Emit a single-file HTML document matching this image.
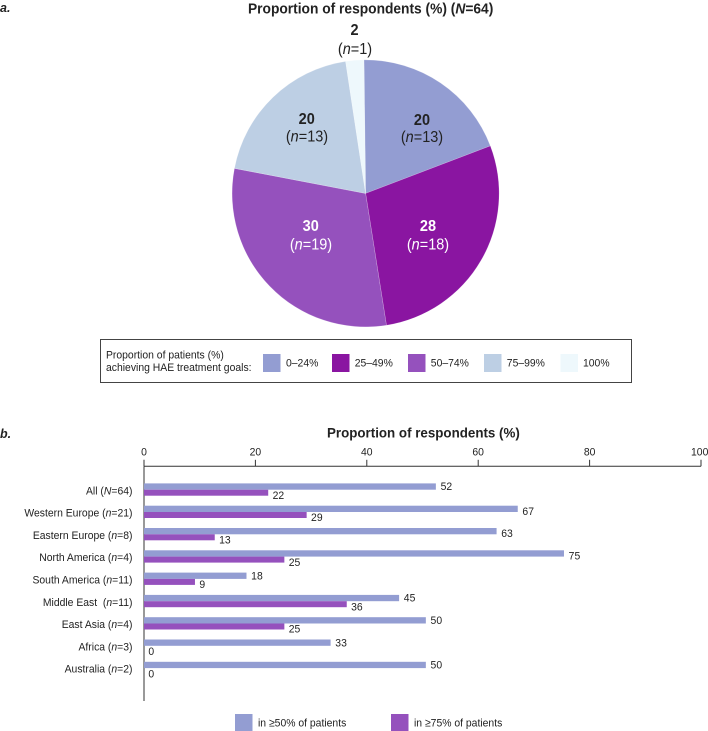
<!DOCTYPE html>
<html lang="en">
<head>
<meta charset="utf-8">
<title>Proportion of respondents</title>
<style>
  html, body { margin: 0; padding: 0; background: #fff; }
  body { width: 708px; height: 731px; overflow: hidden; }
  svg { display: block; font-family: "Liberation Sans", Arial, sans-serif; fill: #222; }
  .t { font-size: 10.4px; }
  .pl { font-size: 14.5px; }
  .pb { font-size: 14.5px; font-weight: bold; }
  .w { fill: #fff; }
  .i { font-style: italic; }
</style>
</head>
<body>
<svg id="figure" xmlns="http://www.w3.org/2000/svg" width="708" height="731" viewBox="0 0 708 731">
  <text x="0" y="12" font-size="12.5" font-weight="bold" font-style="italic">a.</text>
  <text x="248" y="13.5" font-size="13.8" font-weight="bold">Proportion of respondents (%) (<tspan class="i">N</tspan>=64)</text>

  <g id="pie"></g>

  <g text-anchor="middle">
    <text class="pb" x="354.5" y="35">2</text>
    <text class="pl" x="355" y="54">(<tspan class="i">n</tspan>=1)</text>
    <text class="pb" x="422" y="125">20</text>
    <text class="pl" x="422" y="142">(<tspan class="i">n</tspan>=13)</text>
    <text class="pb" x="306.7" y="124">20</text>
    <text class="pl" x="307" y="141.7">(<tspan class="i">n</tspan>=13)</text>
    <text class="pb w" x="310.7" y="231">30</text>
    <text class="pl w" x="311" y="249.3">(<tspan class="i">n</tspan>=19)</text>
    <text class="pb w" x="428" y="231">28</text>
    <text class="pl w" x="428" y="249.3">(<tspan class="i">n</tspan>=18)</text>
  </g>

  <g>
    <rect x="100.5" y="339.5" width="531" height="43" fill="#fff" stroke="#444" stroke-width="1"/>
    <text class="t" x="106" y="358.7">Proportion of patients (%)</text>
    <text class="t" x="106" y="371.2">achieving HAE treatment goals:</text>
    <rect x="263" y="354" width="17.5" height="18" fill="#939dd2"/>
    <text class="t" x="286" y="366.5">0–24%</text>
    <rect x="332" y="354" width="17.5" height="18" fill="#8a15a1"/>
    <text class="t" x="354.7" y="366.5">25–49%</text>
    <rect x="408" y="354" width="17.5" height="18" fill="#9551bd"/>
    <text class="t" x="430.8" y="366.5">50–74%</text>
    <rect x="484" y="354" width="17.5" height="18" fill="#bdcfe4"/>
    <text class="t" x="506.8" y="366.5">75–99%</text>
    <rect x="560.5" y="354" width="17.5" height="18" fill="#eef8fc"/>
    <text class="t" x="583" y="366.5">100%</text>
  </g>

  <text x="0" y="438" font-size="12.5" font-weight="bold" font-style="italic">b.</text>
  <text x="327" y="437.7" font-size="13.36" font-weight="bold">Proportion of respondents (%)</text>

  <g id="bars"></g>

  <g>
    <rect x="235" y="714" width="17.5" height="17" fill="#939dd2"/>
    <text class="t" x="258" y="726.6">in ≥50% of patients</text>
    <rect x="391" y="714" width="17.5" height="17" fill="#9551bd"/>
    <text class="t" x="414" y="726.6">in ≥75% of patients</text>
  </g>
</svg>
<script>
var sliceNames = ['0-24', '25-49', '50-74', '75-99', '100'];
var sliceValues = [19.4, 28.3, 30.5, 19.6, 2.2];
var sliceColors = ['#939dd2', '#8a15a1', '#9551bd', '#bdcfe4', '#eef8fc'];

var regions = ['All', 'Western Europe', 'Eastern Europe', 'North America', 'South America', 'Middle East\u00a0', 'East Asia', 'Africa', 'Australia'];
var regionSymbols = ['N', 'n', 'n', 'n', 'n', 'n', 'n', 'n', 'n'];
var regionCounts = [64, 21, 8, 4, 11, 11, 4, 3, 2];
var seriesAtLeast50 = [52.4, 67.1, 63.3, 75.4, 18.4, 45.8, 50.6, 33.5, 50.6];
var seriesAtLeast75 = [22.3, 29.2, 12.7, 25.2, 9.15, 36.4, 25.2, 0, 0];
var labelsAtLeast50 = [52, 67, 63, 75, 18, 45, 50, 33, 50];
var labelsAtLeast75 = [22, 29, 13, 25, 9, 36, 25, 0, 0];
var tickValues = [0, 20, 40, 60, 80, 100];

var SVGNS = 'http://www.w3.org/2000/svg';
function make(tag, parent) {
  var el = document.createElementNS(SVGNS, tag);
  parent.appendChild(el);
  return el;
}

/* ---------- pie ---------- */
var pieGroup = document.getElementById('pie');
var PIE_CX = 365.6, PIE_CY = 193.4, PIE_R = 133.5, PIE_START = -0.7;
function pieTotal() {
  return sliceValues.reduce(function (a, b) { return a + b; }, 0);
}
function piePoint(deg) {
  var r = (deg - 90) * Math.PI / 180;
  return [PIE_CX + PIE_R * Math.cos(r), PIE_CY + PIE_R * Math.sin(r)];
}
var cumulative = 0;
sliceValues.forEach(function (v, i) {
  var a0 = PIE_START + cumulative / pieTotal() * 360;
  cumulative += v;
  var a1 = PIE_START + cumulative / pieTotal() * 360;
  var p0 = piePoint(a0), p1 = piePoint(a1);
  var large = (a1 - a0) > 180 ? 1 : 0;
  var path = make('path', pieGroup);
  
  
  path.setAttribute('d', 'M' + PIE_CX + ' ' + PIE_CY + 'L' + p0[0] + ' ' + p0[1] +
    'A' + PIE_R + ' ' + PIE_R + ' 0 ' + large + ' 1 ' + p1[0] + ' ' + p1[1] + 'Z');
  path.setAttribute('fill', sliceColors[i]);
  path.setAttribute('stroke', '#fff');
  path.setAttribute('stroke-opacity', '0.3');
  path.setAttribute('stroke-width', '0.6');
});

/* ---------- bars ---------- */
var barGroup = document.getElementById('bars');
var X0 = 144, X_PER_UNIT = 5.57, ROW_TOP = 483.4, ROW_STEP = 22.3, BLUE_H = 6.3, PURPLE_H = 6;
var AXIS_Y = 466.3, AXIS_BOTTOM = 701;
function xScale(v) { return X0 + v * X_PER_UNIT; }
function rowY(i) { return ROW_TOP + i * ROW_STEP; }

var yAxis = make('line', barGroup);


yAxis.setAttribute('x1', xScale(0));
yAxis.setAttribute('x2', xScale(0));
yAxis.setAttribute('y1', AXIS_Y);
yAxis.setAttribute('y2', AXIS_BOTTOM);
yAxis.setAttribute('stroke', '#333');
yAxis.setAttribute('stroke-width', '1');

var xAxis = make('line', barGroup);


xAxis.setAttribute('x1', xScale(0));
xAxis.setAttribute('x2', xScale(100));
xAxis.setAttribute('y1', AXIS_Y);
xAxis.setAttribute('y2', AXIS_Y);
xAxis.setAttribute('stroke', '#333');
xAxis.setAttribute('stroke-width', '1');

tickValues.forEach(function (t) {
  var tick = make('line', barGroup);
  
  
  tick.setAttribute('x1', xScale(t));
  tick.setAttribute('x2', xScale(t));
  tick.setAttribute('y1', AXIS_Y - 6.5);
  tick.setAttribute('y2', AXIS_Y);
  tick.setAttribute('stroke', '#333');
  tick.setAttribute('stroke-width', '1');

  var lab = make('text', barGroup);
  
  
  lab.setAttribute('class', 't');
  lab.setAttribute('x', t === 100 ? xScale(t) - 1.3 : xScale(t));
  lab.setAttribute('y', 455.7);
  lab.setAttribute('text-anchor', 'middle');
  lab.textContent = t;
});

regions.forEach(function (name, i) {
  var y = rowY(i);

  var rowLabel = make('text', barGroup);
  
  
  rowLabel.setAttribute('class', 't');
  rowLabel.setAttribute('x', 132.5);
  rowLabel.setAttribute('y', y + 10.9);
  rowLabel.setAttribute('text-anchor', 'end');
  rowLabel.appendChild(document.createTextNode(name + ' ('));
  var sym = make('tspan', rowLabel);
  sym.setAttribute('class', 'i');
  sym.textContent = regionSymbols[i];
  rowLabel.appendChild(document.createTextNode('=' + regionCounts[i] + ')'));

  var blue = make('rect', barGroup);
  
  
  blue.setAttribute('x', xScale(0));
  blue.setAttribute('y', y);
  blue.setAttribute('width', xScale(seriesAtLeast50[i]) - xScale(0));
  blue.setAttribute('height', BLUE_H);
  blue.setAttribute('fill', '#939dd2');

  var blueLabel = make('text', barGroup);
  
  
  blueLabel.setAttribute('class', 't');
  blueLabel.setAttribute('x', xScale(seriesAtLeast50[i]) + 4.7);
  blueLabel.setAttribute('y', y + BLUE_H / 2 + (seriesAtLeast50[i] > 60 ? 6 : 3.7));
  blueLabel.textContent = labelsAtLeast50[i];

  if (seriesAtLeast75[i] > 0) {
    var purple = make('rect', barGroup);
    
    
    purple.setAttribute('x', xScale(0));
    purple.setAttribute('y', y + BLUE_H);
    purple.setAttribute('width', xScale(seriesAtLeast75[i]) - xScale(0));
    purple.setAttribute('height', PURPLE_H);
    purple.setAttribute('fill', '#9551bd');
  }

  var purpleLabel = make('text', barGroup);
  
  
  purpleLabel.setAttribute('class', 't');
  purpleLabel.setAttribute('x', xScale(seriesAtLeast75[i]) + 4.4);
  purpleLabel.setAttribute('y', y + BLUE_H + PURPLE_H / 2 + 6.2);
  purpleLabel.textContent = labelsAtLeast75[i];
});

/* The reference type is taller and narrower than regular Liberation Sans:
   enlarge each text and squeeze it horizontally about its own x anchor. */
Array.prototype.forEach.call(document.querySelectorAll('#figure text'), function (el) {
  var base = parseFloat(getComputedStyle(el).fontSize);
  var k = el.classList.contains('t') ? 1.1 : 1.05;
  var x = parseFloat(el.getAttribute('x'));
  el.style.fontSize = (base * k) + 'px';
  el.setAttribute('transform', 'matrix(' + (1 / k) + ' 0 0 1 ' + (x - x / k) + ' 0)');
});
</script>
</body>
</html>
